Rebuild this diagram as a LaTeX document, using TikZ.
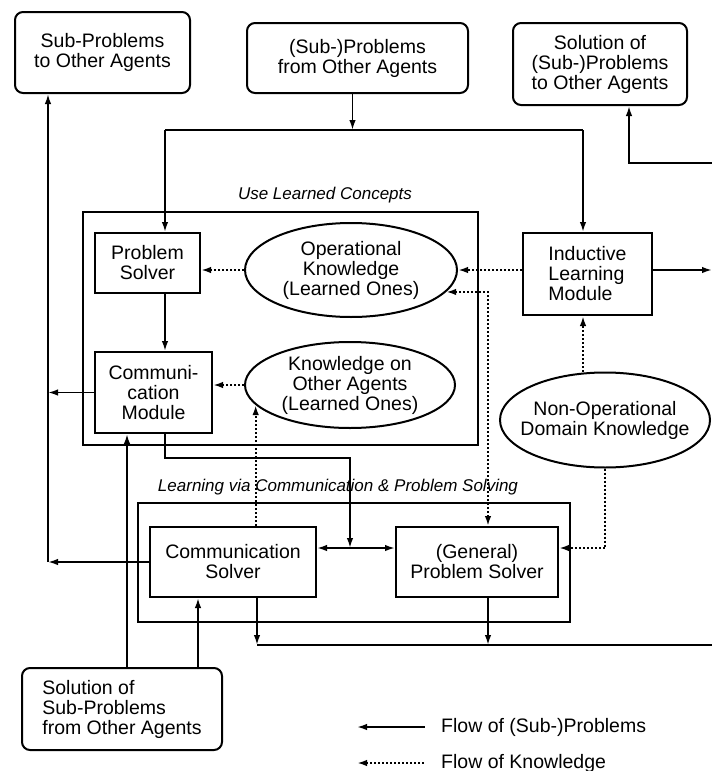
\documentclass[tikz,border=0pt]{standalone}
\usepackage{fontspec}
\setmainfont{Liberation Sans}
\usetikzlibrary{arrows.meta,shapes.geometric,positioning}

\begin{document}
\begin{tikzpicture}[x=1pt,y=-1pt,>={Latex[length=10pt,width=6.5pt]},line width=1.8pt,
    font=\fontsize{19.5}{20}\selectfont]
  \tikzstyle{box}=[draw,rectangle,line width=2pt,align=center,inner sep=2pt]
  \tikzstyle{agent}=[box,rounded corners=8pt]
  \tikzstyle{know}=[ellipse,draw,line width=2pt,align=center,inner sep=0pt]
  \tikzstyle{kflow}=[->,line width=2.2pt,dash pattern=on 2pt off 2pt]
  \tikzstyle{annot}=[font=\fontsize{17}{18}\selectfont\itshape]
  \tikzstyle{group}=[draw,line width=2pt]

  \useasboundingbox (0,0) rectangle (712,771);

  % Other agents
  \node[agent,minimum width=175pt,minimum height=81pt] (subto) at (102.5,52.5) {Sub-Problems\\to Other Agents};
  \node[agent,minimum width=221pt,minimum height=70pt] (probfrom) at (357.5,58) {(Sub-)Problems\\from Other Agents};
  \node[agent,minimum width=174pt,minimum height=82pt] (solto) at (600,64) {Solution of\\(Sub-)Problems\\to Other Agents};
  \node[agent,minimum width=200pt,minimum height=82pt,align=left] (solfrom) at (122,709) {Solution of\\Sub-Problems\\from Other Agents};

  % Use learned concepts
  \draw[group] (83,212) rectangle (478,445);
  \node[annot] (ulcl) at (325,195) {Use Learned Concepts};
  \node[box,minimum width=105pt,minimum height=60pt] (ps) at (147.5,263) {Problem\\Solver};
  \node[know,minimum width=212pt,minimum height=94pt] (ok) at (351,270) {Operational\\Knowledge\\(Learned Ones)};
  \node[box,minimum width=117pt,minimum height=81pt] (cm) at (153.5,392.5) {Communi-\\cation\\Module};
  \node[know,minimum width=210pt,minimum height=86pt] (koa) at (350,385) {Knowledge on\\Other Agents\\(Learned Ones)};

  % Learning side
  \node[box,minimum width=129pt,minimum height=82pt,align=left] (ilm) at (587.5,274) {Inductive\\Learning\\Module};
  \node[know,minimum width=210pt,minimum height=95pt,inner xsep=-14pt] (nodk) at (605,420) {Non-Operational\\Domain Knowledge};

  % Learning via communication & problem solving
  \draw[group] (138,503) rectangle (570,622);
  \node[annot] (lvcl) at (338,487) {Learning via Communication \& Problem Solving};
  \node[box,minimum width=166pt,minimum height=70pt] (cs) at (233,562) {Communication\\Solver};
  \node[box,minimum width=162pt,minimum height=70pt] (gps) at (477,562) {(General)\\Problem Solver};

  \coordinate (tl) at (165,130);
  \coordinate (tr) at (583,130);
  \coordinate (lx) at (48,562);
  \coordinate (mid) at (350,548);
  \coordinate (bl) at (257,645);
  \coordinate (br) at (712,645);
  \coordinate (gx) at (488,645);
  \coordinate (r1) at (712,270);
  \coordinate (r2) at (712,163);
  \coordinate (s1) at (127,668);
  \coordinate (s2) at (198,668);

  % Incoming (sub-)problems
  \draw[->] ([xshift=-5pt]probfrom.south) -- ([xshift=-5pt]probfrom.south |- tl);
  \draw (tl) -- (tr);
  \draw[->] (tl) -- (tl |- ps.north);
  \draw[->] (tr) -- (tr |- ilm.north);
  \draw[->] (ps.south -| tl) -- (cm.north -| tl);

  % Flow of knowledge
  \draw[kflow] (ok.west) -- (ok.west -| ps.east);
  \draw[kflow] (koa.west) -- (koa.west -| cm.east);
  \draw[kflow] (ilm.west |- ok.east) -- (ok.east);
  \draw[kflow] (nodk.north -| tr) -- (tr |- ilm.south);
  \draw[kflow] (nodk.south) |- (gps.east |- mid);
  \draw[kflow,<->] (gx |- gps.north) |- (ok.-13);
  \draw[kflow] (cs.north -| koa.192) -- (koa.192);

  % Sub-problems to other agents
  \draw[->] (cm.west) -- (cm.west -| lx);
  \draw[->] (cs.west) -- (lx);
  \draw[->] (lx) -- (lx |- subto.south);

  % Solutions from other agents
  \draw[->] (s1) -- (s1 |- cm.south);
  \draw[->] (s2) -- (s2 |- cs.south);

  % Between the two solvers
  \draw[->] (cm.south -| tl) -- ++(0,24) -| (mid);
  \draw[<->] (cs.east |- mid) -- (gps.west |- mid);

  % Outgoing solutions
  \draw[->] (bl |- cs.south) -- (bl);
  \draw[->] (gx |- gps.south) -- (gx);
  \draw (bl) -- (br);
  \draw[->] (r2) -| ([xshift=29pt]solto.south);
  \draw[->] (ilm.east |- r1) -- (r1);

  % Legend
  \node[anchor=west] (lgp) at (437,727) {Flow of (Sub-)Problems};
  \node[anchor=west] (lgk) at (437,763) {Flow of Knowledge};
  \coordinate (la) at (357,727);
  \coordinate (lb) at (357,763);
  \draw[<-] (la) -- ([xshift=-12pt]lgp.west);
  \draw[kflow,<-] (lb) -- ([xshift=-12pt]lgk.west);
\end{tikzpicture}
\end{document}
